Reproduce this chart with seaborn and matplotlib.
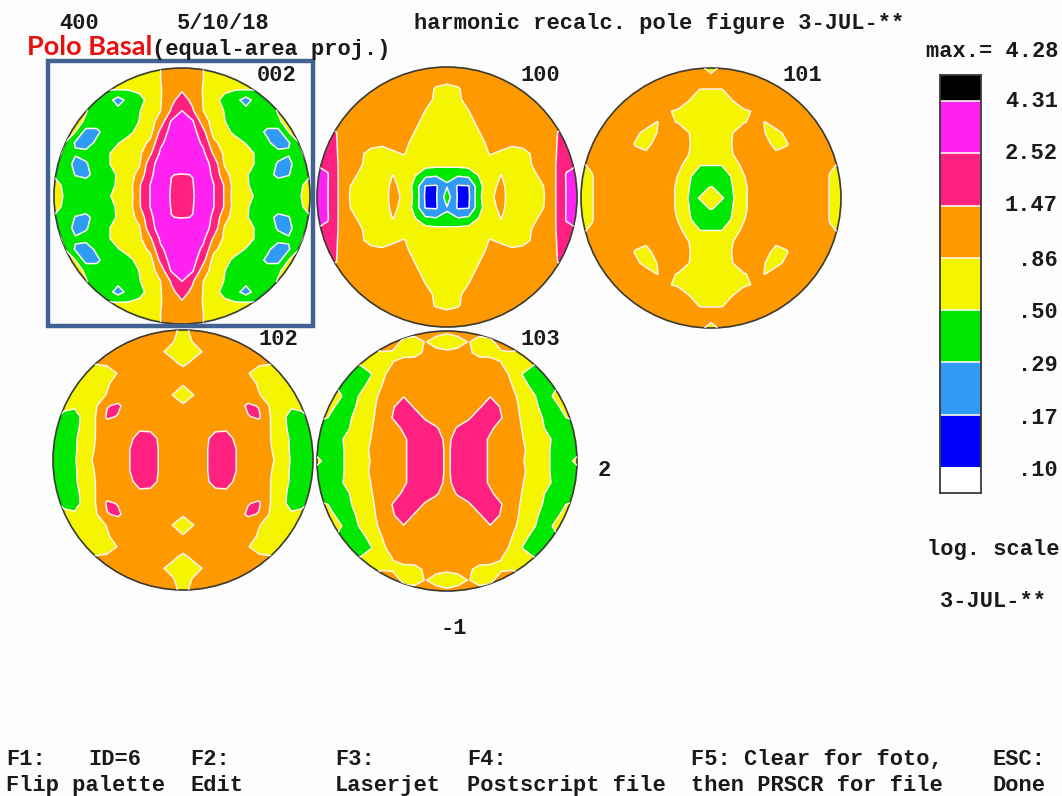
import matplotlib
matplotlib.use("Agg")
import matplotlib.pyplot as plt
import numpy as np
import seaborn as sns
from matplotlib.colors import ListedColormap
from matplotlib.patches import Circle, Rectangle

# colour classes, low to high (log scale)
class_colors = ["#FFFFFF", "#0000FF", "#2F9BF5", "#00E800", "#F5F500",
                "#FF9900", "#FF2080", "#FF22F0", "#000000"]
class_labels = [".10", ".17", ".29", ".50", ".86", "1.47", "2.52", "4.31"]
class_rows = [8, 7, 7, 6, 6, 5, 5, 4, 4, 3, 3, 2, 2, 1, 1, 0]

# upper right quadrant of each pole figure in class units
# rows run from the top of the circle to its centre, columns from centre to rim
pf_002 = [
    [4.5, 4.4, 4.0, 3.5, 3.5, 3.5, 3.5, 3.5, 3.5, 3.5, 3.5, 3.5, 3.5],
    [4.6, 4.5, 4.0, 3.6, 3.5, 3.5, 3.4, 3.4, 3.4, 3.4, 3.4, 3.4, 3.4],
    [4.9, 4.5, 3.95, 3.5, 3.2, 3.05, 3.05, 3.05, 3.0, 3.0, 3.0, 3.0, 3.0],
    [5.35, 4.8, 3.95, 3.3, 2.7, 2.3, 1.6, 2.4, 2.8, 3.0, 3.2, 3.4, 3.5],
    [6.0, 5.1, 4.0, 3.45, 2.95, 2.5, 2.3, 2.3, 2.3, 3.1, 3.3, 3.5, 3.5],
    [6.4, 6.1, 4.45, 3.6, 3.02, 2.6, 2.4, 2.4, 2.4, 2.8, 3.5, 3.5, 3.5],
    [6.6, 6.4, 5.3, 3.6, 3.25, 2.8, 2.6, 2.4, 1.8, 1.6, 3.0, 3.2, 3.5],
    [6.7, 6.5, 5.8, 4.2, 3.6, 3.3, 2.95, 2.6, 2.2, 1.5, 1.9, 3.0, 3.2],
    [6.7, 6.6, 6.2, 4.8, 3.8, 3.5, 3.3, 2.9, 2.6, 2.3, 2.1, 2.9, 3.2],
    [6.7, 6.7, 6.5, 5.6, 3.9, 3.6, 3.3, 2.9, 2.5, 1.9, 1.7, 2.6, 3.1],
    [5.95, 6.02, 6.5, 5.8, 4.3, 3.6, 3.1, 2.6, 2.3, 1.8, 1.95, 2.6, 2.9],
    [5.4, 5.95, 6.6, 6.0, 4.9, 3.5, 3.15, 2.6, 2.5, 2.4, 2.5, 2.8, 3.4],
    [5.4, 5.9, 6.6, 6.0, 4.9, 3.4, 3.2, 2.9, 2.5, 2.4, 2.5, 2.9, 3.5],
]
pf_100 = [
    [4.5, 4.5, 4.5, 4.5, 4.5, 4.5, 4.5, 4.5, 4.5, 4.5, 4.5, 4.5, 4.5],
    [4.5, 4.5, 4.5, 4.5, 4.5, 4.5, 4.5, 4.5, 4.5, 4.5, 4.5, 4.5, 4.5],
    [3.65, 3.9, 4.4, 4.5, 4.5, 4.5, 4.5, 4.5, 4.5, 4.5, 4.5, 4.5, 4.5],
    [3.5, 3.85, 4.3, 4.5, 4.5, 4.5, 4.5, 4.5, 4.5, 4.5, 4.5, 4.5, 4.5],
    [3.5, 3.5, 4.0, 4.4, 4.5, 4.5, 4.5, 4.5, 4.5, 4.5, 4.5, 4.5, 4.5],
    [3.5, 3.5, 3.8, 4.2, 4.5, 4.5, 4.5, 4.5, 4.5, 4.5, 4.7, 4.7, 4.7],
    [3.5, 3.5, 3.6, 4.0, 4.4, 4.5, 4.5, 4.5, 4.5, 4.5, 4.95, 5.2, 5.2],
    [3.5, 3.5, 3.5, 3.8, 4.2, 4.35, 4.15, 4.2, 4.4, 4.5, 4.95, 5.3, 5.3],
    [3.5, 3.5, 3.5, 3.7, 4.05, 3.85, 3.7, 3.8, 4.1, 4.5, 4.95, 5.4, 5.5],
    [3.3, 3.3, 3.4, 3.6, 3.6, 3.6, 3.5, 3.6, 4.1, 4.4, 4.95, 5.85, 5.95],
    [2.1, 2.1, 2.25, 3.1, 3.55, 4.02, 3.5, 3.4, 3.85, 4.3, 4.95, 6.05, 6.4],
    [1.95, 0.9, 0.95, 2.7, 3.8, 4.15, 3.7, 3.5, 3.4, 4.05, 4.95, 6.02, 6.5],
    [2.5, 0.9, 0.85, 2.8, 3.9, 4.2, 3.7, 3.5, 3.4, 4.0, 4.95, 6.02, 6.5],
]
pf_101 = [
    [3.7, 4.2, 4.5, 4.5, 4.5, 4.5, 4.5, 4.5, 4.5, 4.5, 4.5, 4.5, 4.5],
    [4.3, 4.4, 4.5, 4.5, 4.5, 4.5, 4.5, 4.5, 4.5, 4.5, 4.5, 4.5, 4.5],
    [3.98, 3.98, 4.2, 4.5, 4.5, 4.5, 4.5, 4.5, 4.5, 4.5, 4.5, 4.5, 4.5],
    [3.5, 3.5, 4.0, 4.35, 4.5, 4.5, 4.5, 4.5, 4.5, 4.5, 4.5, 4.5, 4.5],
    [3.5, 3.5, 3.6, 3.9, 4.05, 4.4, 4.5, 4.5, 4.5, 4.5, 4.5, 4.5, 4.5],
    [3.5, 3.5, 3.5, 3.95, 4.15, 3.98, 4.4, 4.5, 4.5, 4.5, 4.5, 4.5, 4.5],
    [3.5, 3.5, 4.0, 4.4, 4.5, 4.0, 3.75, 4.2, 4.5, 4.5, 4.5, 4.5, 4.5],
    [3.5, 3.5, 4.05, 4.4, 4.5, 4.4, 3.6, 3.95, 4.4, 4.5, 4.5, 4.5, 4.5],
    [3.5, 3.5, 3.98, 4.3, 4.5, 4.5, 4.25, 4.2, 4.5, 4.5, 4.5, 4.5, 4.5],
    [3.0, 3.0, 3.7, 4.15, 4.5, 4.5, 4.5, 4.5, 4.5, 4.5, 4.5, 4.1, 3.9],
    [2.4, 2.5, 3.1, 3.95, 4.4, 4.5, 4.5, 4.5, 4.5, 4.5, 4.4, 3.95, 3.7],
    [3.02, 2.9, 3.0, 3.8, 4.4, 4.5, 4.5, 4.5, 4.5, 4.5, 4.4, 3.95, 3.6],
    [3.7, 3.02, 2.9, 3.8, 4.4, 4.5, 4.5, 4.5, 4.5, 4.5, 4.4, 3.95, 3.6],
]
pf_102 = [
    [3.7, 4.3, 4.5, 4.5, 4.5, 4.5, 4.5, 4.5, 4.5, 4.5, 4.5, 4.5, 4.5],
    [3.6, 4.1, 4.5, 4.5, 4.5, 4.5, 4.5, 4.5, 4.5, 4.5, 4.5, 4.5, 4.5],
    [3.4, 3.7, 4.1, 4.5, 4.5, 4.5, 4.5, 4.5, 4.5, 4.5, 4.5, 4.5, 4.5],
    [3.75, 4.2, 4.5, 4.5, 4.5, 4.5, 4.3, 4.2, 4.1, 4.1, 4.1, 4.1, 4.1],
    [4.4, 4.5, 4.5, 4.5, 4.5, 4.5, 4.05, 3.6, 3.5, 3.5, 3.5, 3.5, 3.5],
    [4.05, 4.4, 4.5, 4.5, 4.5, 4.5, 4.4, 3.9, 3.5, 3.5, 3.5, 3.5, 3.5],
    [3.6, 4.0, 4.4, 4.5, 4.5, 4.5, 4.5, 4.05, 3.7, 3.4, 3.4, 3.4, 3.4],
    [4.1, 4.4, 4.5, 4.5, 4.5, 4.6, 5.15, 4.95, 3.95, 3.4, 3.15, 3.3, 3.4],
    [4.5, 4.5, 4.5, 4.5, 4.5, 4.6, 4.95, 5.15, 4.05, 3.4, 2.6, 2.7, 3.3],
    [4.5, 4.5, 4.5, 4.8, 4.85, 4.6, 4.5, 4.5, 4.05, 3.4, 2.7, 2.5, 3.2],
    [4.5, 4.5, 4.8, 5.3, 5.3, 4.8, 4.5, 4.5, 4.05, 3.5, 2.85, 2.4, 2.9],
    [4.5, 4.5, 4.8, 5.5, 5.5, 4.95, 4.5, 4.45, 4.1, 3.6, 2.85, 2.3, 2.4],
    [4.5, 4.5, 4.8, 5.5, 5.5, 4.95, 4.5, 4.4, 4.2, 3.7, 2.9, 2.3, 2.3],
]
pf_103 = [
    [4.2, 4.4, 4.4, 4.4, 4.4, 4.4, 4.5, 4.5, 4.5, 4.5, 4.5, 4.5, 4.5],
    [3.4, 3.6, 4.05, 3.6, 3.8, 4.4, 4.5, 4.5, 4.5, 4.5, 4.5, 4.5, 4.5],
    [4.2, 4.3, 4.2, 3.6, 3.6, 3.9, 3.95, 3.7, 3.5, 3.5, 3.5, 3.5, 3.5],
    [4.5, 4.5, 4.5, 4.6, 4.5, 4.02, 3.5, 3.5, 3.1, 3.0, 3.0, 3.0, 3.0],
    [4.5, 4.5, 4.5, 4.5, 4.5, 4.3, 3.85, 2.95, 2.4, 2.5, 2.5, 2.5, 2.5],
    [4.5, 4.5, 4.5, 4.5, 4.5, 4.5, 4.0, 3.3, 2.7, 2.4, 2.8, 3.1, 3.1],
    [4.5, 4.5, 4.5, 4.6, 4.95, 4.6, 4.2, 3.7, 3.1, 2.5, 3.2, 3.5, 3.5],
    [4.5, 4.5, 4.5, 4.9, 5.6, 4.9, 4.3, 3.8, 3.3, 2.6, 2.75, 3.4, 3.5],
    [4.5, 4.6, 4.85, 5.6, 5.7, 5.05, 4.4, 3.85, 3.4, 2.9, 2.7, 3.0, 3.1],
    [4.6, 5.1, 5.6, 5.6, 5.15, 4.6, 4.4, 3.95, 3.4, 3.0, 2.6, 2.4, 2.8],
    [4.7, 5.5, 5.6, 5.4, 4.85, 4.55, 4.4, 4.02, 3.6, 3.3, 2.8, 2.4, 2.6],
    [4.75, 5.6, 5.7, 5.4, 4.85, 4.5, 4.4, 4.1, 3.7, 3.2, 2.8, 2.5, 2.7],
    [4.7, 5.7, 5.7, 5.4, 4.85, 4.5, 4.4, 4.05, 3.6, 3.2, 2.8, 2.7, 3.2],
]

W, H = 1062, 796
sns.set_theme(style="white")
plt.rcParams["font.family"] = ["Liberation Mono", "DejaVu Sans Mono"]

fig = plt.figure(figsize=(W / 100, H / 100), dpi=100, facecolor="#FDFDFD")


def pixel_axes(left, top, width, height):
    return fig.add_axes([left / W, 1 - (top + height) / H, width / W, height / H])


def pole_figure(quadrant, cx, cy, r):
    upper = np.array(quadrant)[::-1]
    right = np.vstack([upper[:0:-1], upper])
    z = np.hstack([right[:, :0:-1], right])
    grid = np.linspace(-1, 1, z.shape[0])
    pad = 1.03
    ax = pixel_axes(cx - r * pad, cy - r * pad, 2 * r * pad, 2 * r * pad)
    ax.set_xlim(-pad, pad)
    ax.set_ylim(-pad, pad)
    ax.axis("off")
    levels = np.arange(-1, 9)
    cf = ax.contourf(grid, grid, z, levels=levels, colors=class_colors)
    cl = ax.contour(grid, grid, z, levels=levels[1:-1], colors="#FFF8F0", linewidths=1.1)
    clip = Circle((0, 0), 1, transform=ax.transData)
    cf.set_clip_path(clip)
    cl.set_clip_path(clip)
    ax.add_patch(Circle((0, 0), 1, fill=False, ec="#3A3A30", lw=1.2))


pole_figure(pf_002, 182, 196, 128)
pole_figure(pf_100, 447, 197, 130)
pole_figure(pf_101, 711, 198, 130)
pole_figure(pf_102, 183, 460, 130)
pole_figure(pf_103, 447, 461, 130)

# palette strip
cax = pixel_axes(940, 75, 41, 418)
sns.heatmap(
    np.array(class_rows).reshape(-1, 1),
    cmap=ListedColormap(class_colors),
    vmin=0,
    vmax=8,
    cbar=False,
    xticklabels=False,
    yticklabels=False,
    ax=cax,
)
cax.hlines(np.arange(1, 15, 2), 0, 1, colors="#FFF8F0", linewidth=1.2)
for spine in cax.spines.values():
    spine.set_visible(True)
    spine.set_color("#3A3A3A")
    spine.set_linewidth(1.3)

# overlay in picture pixels for the frame and the screen text
over = fig.add_axes([0, 0, 1, 1])
over.set_xlim(0, W)
over.set_ylim(H, 0)
over.axis("off")
over.add_patch(Rectangle((47.5, 61), 265, 265, fill=False, ec="#426391", lw=3.2))

screen_text = [
    (59, 29, "400"),
    (177, 29, "5/10/18"),
    (414, 29, "harmonic recalc. pole figure 3-JUL-**"),
    (152, 55, "(equal-area proj.)"),
    (926, 57, "max.= 4.28"),
    (257, 81, "002"),
    (521, 81, "100"),
    (783, 81, "101"),
    (258, 345, "102"),
    (521, 345, "103"),
    (598, 476, "2"),
    (441, 634, "-1"),
    (927, 555, "log. scale"),
    (940, 607, "3-JUL-**"),
    (6, 765, "F1:"),
    (88, 765, "ID=6"),
    (190, 765, "F2:"),
    (335, 765, "F3:"),
    (467, 765, "F4:"),
    (691, 765, "F5: Clear for foto,"),
    (993, 765, "ESC:"),
    (6, 791, "Flip palette"),
    (190, 791, "Edit"),
    (335, 791, "Laserjet"),
    (467, 791, "Postscript file"),
    (691, 791, "then PRSCR for file"),
    (993, 791, "Done"),
]
for x, y, s in screen_text:
    over.text(x, y, s, fontsize=15.8, fontweight="bold", color="#1A1A1A", va="baseline")

label_rows = [469, 417, 364, 311, 259, 204, 152, 100]
for y, s in zip(label_rows, class_labels):
    over.text(1058, y + 7, s, fontsize=15.8, fontweight="bold", color="#1A1A1A", ha="right", va="baseline")

over.text(27, 55, "Polo Basal", family="Lato", fontsize=19.5, fontweight="bold", color="#E8100F", va="baseline")

fig.savefig("out.png", dpi=100, facecolor=fig.get_facecolor())
